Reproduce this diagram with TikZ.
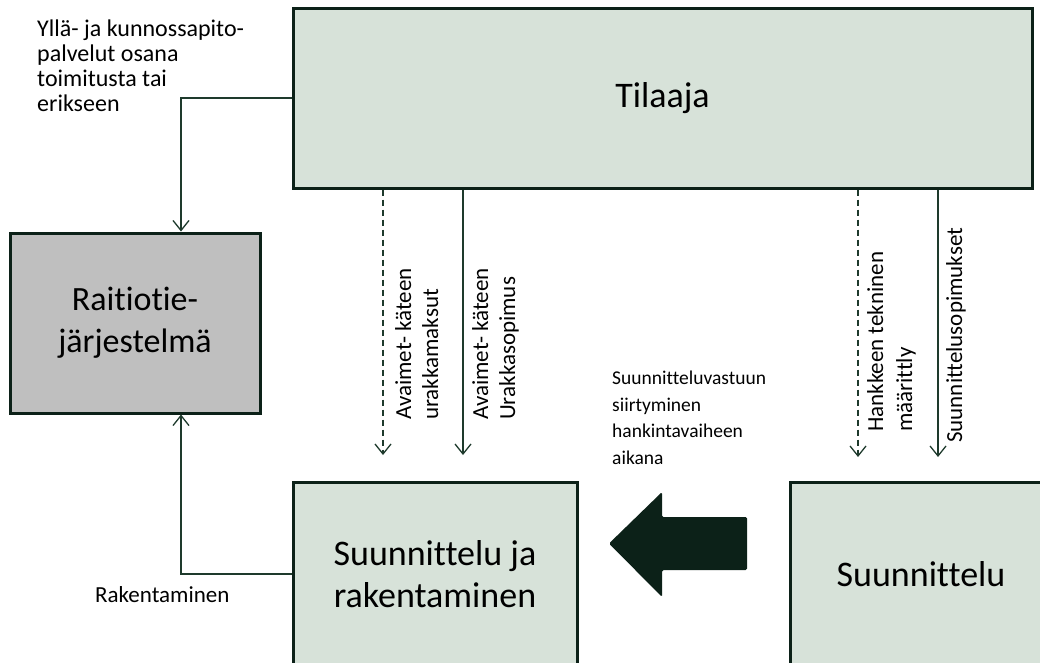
\documentclass[tikz,border=0pt]{standalone}
\usepackage{fontspec}
\setmainfont{Carlito}[Ligatures=NoCommon]
\usetikzlibrary{arrows.meta}
\definecolor{boxfill}{HTML}{D7E2D9}
\definecolor{grayfill}{HTML}{BFBFBF}
\definecolor{edgecol}{HTML}{0C2118}
\definecolor{conncol}{HTML}{1E3A2C}
\begin{document}
\begin{tikzpicture}[x=1pt,y=-1pt,
  box/.style={draw=edgecol, line width=3pt, fill=boxfill, inner sep=0pt, align=center,
              font=\fontsize{36}{42}\selectfont},
  conn/.style={draw=conncol, line width=1.3pt},
  tipend/.style={-{Straight Barb[length=10pt,width=16pt]}},
  dashline/.style={dash pattern=on 6pt off 4pt},
  vlabel/.style={rotate=90, anchor=base west, inner sep=0pt, font=\fontsize{23}{28}\selectfont},
  note/.style={inner sep=0pt, align=left}]
\useasboundingbox (0,0) rectangle (1040,662);
\node[box, minimum width=739pt, minimum height=180pt] (til) at (662.5,98) {Tilaaja};
\node[box, fill=grayfill, minimum width=250pt, minimum height=180pt,
      font=\fontsize{34}{42}\selectfont] (rai) at (135,323) {Raitiotie-\\järjestelmä};
\node[box, minimum width=284pt, minimum height=184pt] (sr) at (435,574) {Suunnittelu ja\\rakentaminen};
\node[box, minimum width=262pt, minimum height=184pt] (su) at (921,574) {Suunnittelu};

\draw[conn, tipend] (til.west) -| ([xshift=46pt]rai.north);
\draw[conn, tipend] (sr.west) -| ([xshift=46pt]rai.south);

\coordinate (e1) at (383,455);
\coordinate (e2) at (463,455);
\coordinate (e3) at (858,457);
\coordinate (e4) at (938,457);
\draw[conn, dashline, tipend] (til.south -| e1) -- (e1);
\draw[conn, tipend] (til.south -| e2) -- (e2);
\draw[conn, dashline, tipend] (til.south -| e3) -- (e3);
\draw[conn, tipend] (til.south -| e4) -- (e4);

\node[vlabel] (l1a) at (411,420) {Avaimet- käteen};
\node[vlabel] (l1b) at (438,420) {urakkamaksut};
\node[vlabel] (l2a) at (488,420) {Avaimet- käteen};
\node[vlabel] (l2b) at (515,420) {Urakkasopimus};
\node[vlabel] (l3a) at (883,432) {Hankkeen tekninen};
\node[vlabel] (l3b) at (912,432) {määrittly};
\node[vlabel] (l4) at (962,443) {Suunnittelusopimukset};

\node[note, anchor=north west, font=\fontsize{24}{25}\selectfont] (yl) at (37,20)
  {Yllä- ja kunnossapito-\\palvelut osana\\toimitusta tai\\erikseen};
\node[note, anchor=north west, font=\fontsize{19.5}{26.5}\selectfont] (sv) at (612,371)
  {Suunnitteluvastuun\\siirtyminen\\hankintavaiheen\\aikana};
\node[note, anchor=base west, font=\fontsize{23}{28}\selectfont] (rk) at (95,602) {Rakentaminen};

\fill[edgecol, rounded corners=1.5pt] (747,517) -- (662,517) -- (662,492) -- (609,543.5)
  -- (662,597) -- (662,570) -- (747,570) -- cycle;
\end{tikzpicture}
\end{document}
